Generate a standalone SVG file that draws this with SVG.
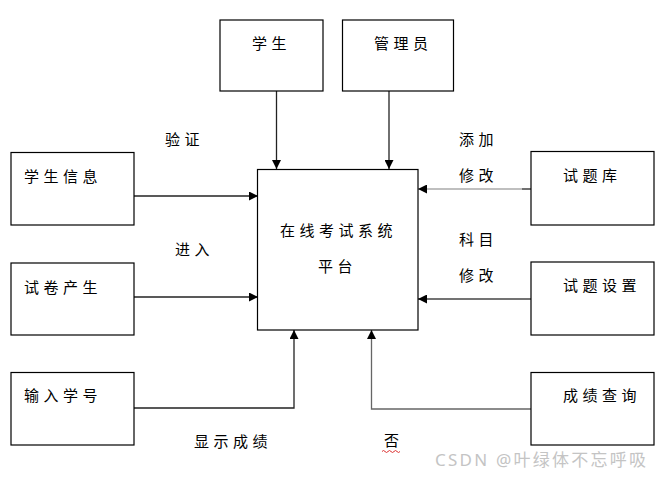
<svg xmlns="http://www.w3.org/2000/svg" width="662" height="478" viewBox="0 0 662 478">
<defs>
<style>
.box{fill:#fff;stroke:#000;stroke-width:1.2}
.t{font-family:"Noto Sans CJK SC","Noto Sans",sans-serif;font-size:15px;fill:#000;letter-spacing:4.5px}
.ln{fill:none;stroke:#222;stroke-width:1.3}
.wm{font-family:"Noto Sans","Noto Sans CJK SC",sans-serif;font-size:17px;fill:#c4c4c4}
</style>
<marker id="ah" viewBox="0 0 10 10" refX="10" refY="5" markerWidth="9" markerHeight="9" markerUnits="userSpaceOnUse" orient="auto">
<path d="M0,0 L10,5 L0,10 z" fill="#000"/>
</marker>
</defs>
<rect width="662" height="478" fill="#fff"/>
<g id="connectors">
<path class="ln" d="M276.5,91 V169" marker-end="url(#ah)"/>
<path class="ln" d="M389,91 V169" marker-end="url(#ah)"/>
<path class="ln" d="M134,196 H258" marker-end="url(#ah)"/>
<path class="ln" d="M134,297 H258" marker-end="url(#ah)"/>
<path class="ln" style="stroke:#aaa" d="M522,189 H418" marker-end="url(#ah)"/>
<path class="ln" d="M522,189 H531"/>
<path class="ln" style="stroke:#444" d="M531,299 H418" marker-end="url(#ah)"/>
<path class="ln" d="M134,408 H294 V330" marker-end="url(#ah)"/>
<path class="ln" style="stroke:#666" d="M531,409 H371.5 V330" marker-end="url(#ah)"/>
</g>
<g id="student"><rect class="box" x="220" y="20" width="103" height="71"/><text class="t" x="252" y="48.5">学生</text></g>
<g id="admin"><rect class="box" x="342.5" y="20" width="111" height="71"/><text class="t" x="374" y="49">管理员</text></g>
<g id="student-info"><rect class="box" x="11" y="152.5" width="123" height="72.5"/><text class="t" x="24" y="182">学生信息</text></g>
<g id="paper-gen"><rect class="box" x="11" y="263" width="123" height="72"/><text class="t" x="24" y="293">试卷产生</text></g>
<g id="input-id"><rect class="box" x="11" y="372.5" width="123" height="72.5"/><text class="t" x="24" y="401">输入学号</text></g>
<g id="platform"><rect class="box" x="257.5" y="169.5" width="160.5" height="160.5"/><text class="t" x="280" y="236">在线考试系统</text><text class="t" x="318" y="272">平台</text></g>
<g id="question-bank"><rect class="box" x="531" y="151.5" width="123" height="73.5"/><text class="t" x="563" y="181">试题库</text></g>
<g id="question-set"><rect class="box" x="531" y="262" width="123" height="73"/><text class="t" x="563" y="291">试题设置</text></g>
<g id="score-query"><rect class="box" x="531" y="372.5" width="123" height="72.5"/><text class="t" x="563" y="401">成绩查询</text></g>
<g id="labels">
<text class="t" x="165" y="145">验证</text>
<text class="t" x="459" y="145">添加</text>
<text class="t" x="459" y="181">修改</text>
<text class="t" x="175" y="255">进入</text>
<text class="t" x="459" y="245">科目</text>
<text class="t" x="459" y="281">修改</text>
<text class="t" x="194" y="447">显示成绩</text>
<text class="t" x="384" y="446">否</text>
<path d="M382,451.5 q1.5,-2 3,0 t3,0 t3,0 t3,0 t3,0 t3,0" fill="none" stroke="#d33" stroke-width="1"/>
</g>
<text class="wm" x="435" y="466" textLength="211" lengthAdjust="spacing">CSDN @叶绿体不忘呼吸</text>
</svg>
